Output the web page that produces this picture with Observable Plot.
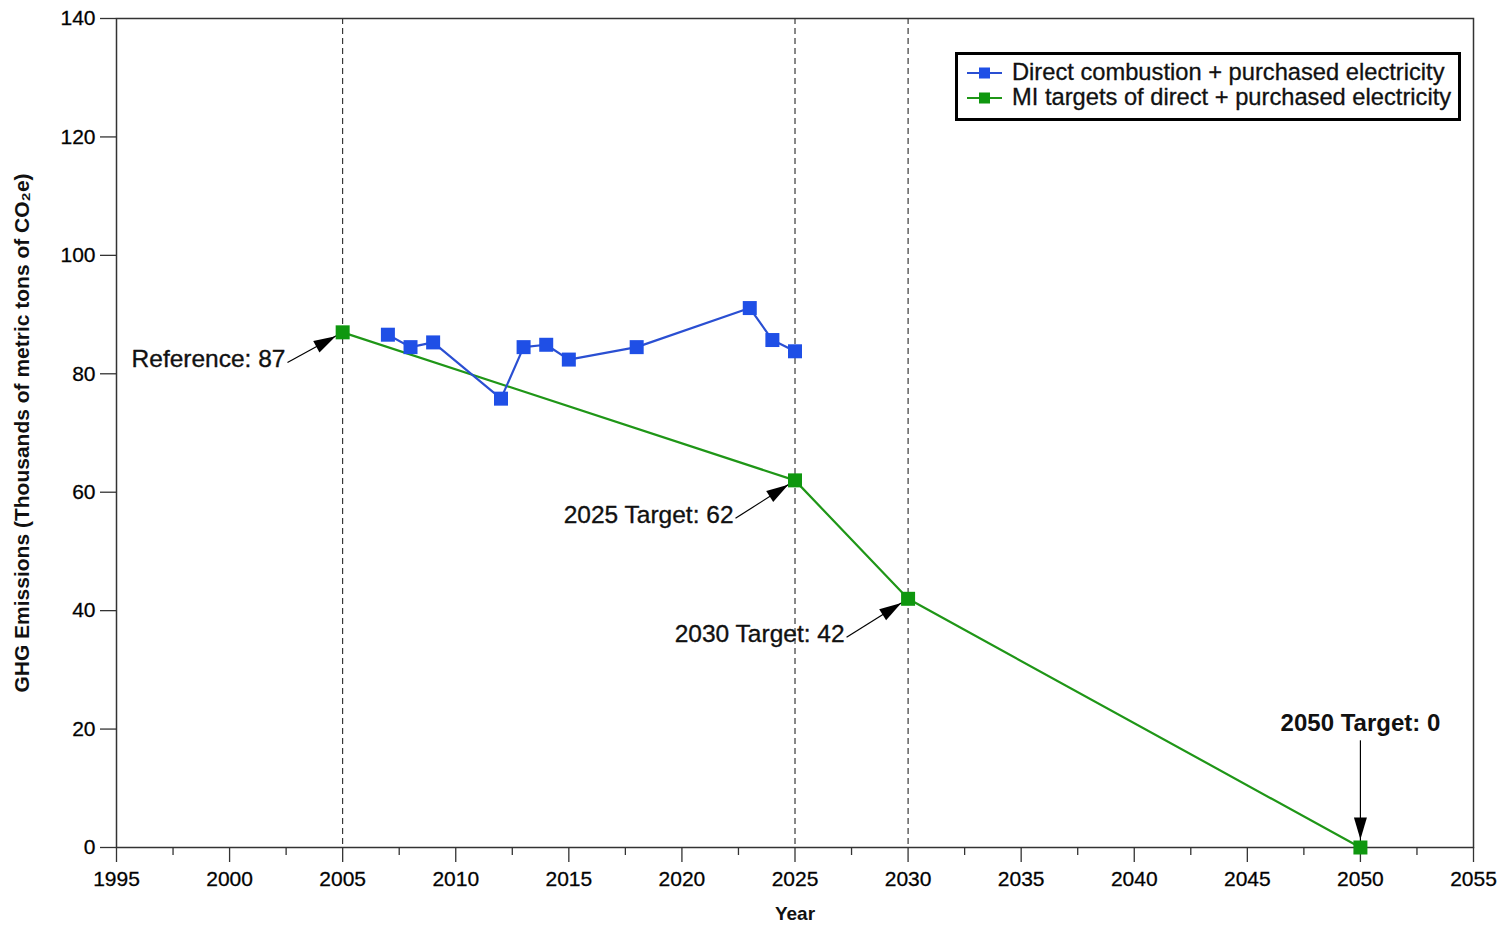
<!DOCTYPE html>
<html>
<head>
<meta charset="utf-8">
<script src="https://cdn.jsdelivr.net/npm/d3@7"></script>
<script src="https://cdn.jsdelivr.net/npm/@observablehq/plot@0.6"></script>
<style>
  html, body { margin: 0; padding: 0; background: #fff; }
  #wrap { position: relative; width: 1508px; height: 926px; font-family: "Liberation Sans", Arial, Helvetica, sans-serif; }
  #legend {
    position: absolute; left: 955px; top: 52px; width: 506px; height: 69px;
    box-sizing: border-box; border: 3px solid #000; background: #fff;
    padding: 5px 4px 0 9px; font-size: 23.7px; color: #111;
  }
  .row { display: flex; align-items: center; height: 25px; line-height: 25px; white-space: nowrap; }
  .row svg { flex: none; margin-right: 10px; }
  .row span { -webkit-text-stroke: 0.3px #111; }
</style>
</head>
<body>
<div id="wrap">
  <div id="chart"></div>
  <div id="legend"></div>
</div>
<script>
// ---- Data ----
const actualYears = [2007, 2008, 2009, 2012, 2013, 2014, 2015, 2018, 2023, 2024, 2025];
const actualEmissions = [86.6, 84.5, 85.3, 75.8, 84.5, 84.9, 82.4, 84.5, 91.1, 85.7, 83.8];
const targetYears = [2005, 2025, 2030, 2050];
const targetEmissions = [87, 62, 42, 0];
const milestoneYears = [2005, 2025, 2030];
const xTicks = [1995, 2000, 2005, 2010, 2015, 2020, 2025, 2030, 2035, 2040, 2045, 2050, 2055];
const xMinorTicks = [1997.5, 2002.5, 2007.5, 2012.5, 2017.5, 2022.5, 2027.5, 2032.5, 2037.5, 2042.5, 2047.5, 2052.5];
const yTicks = [0, 20, 40, 60, 80, 100, 120, 140];
const seriesNames = ["Direct combustion + purchased electricity", "MI targets of direct + purchased electricity"];
const annotLabels = ["Reference: 87", "2025 Target: 62", "2030 Target: 42", "2050 Target: 0"];
const annotTargetX = [2005, 2025, 2030, 2050];
const annotTargetY = [87, 62, 42, 0];
const annotTailX = [2002.56, 2022.37, 2027.28, 2050];
const annotTailY = [81.9, 55.6, 35.5, 18.1];
const xLabel = "Year";
const yLabel = "GHG Emissions (Thousands of metric tons of CO\u2082e)";

// ---- Build tables ----
const actual = actualYears.map((x, i) => ({x, y: actualEmissions[i]}));
const target = targetYears.map((x, i) => ({x, y: targetEmissions[i]}));
const annots = annotLabels.map((label, i) => ({
  label, x: annotTargetX[i], y: annotTargetY[i], tx: annotTailX[i], ty: annotTailY[i], i
}));

const BLUE = "#1f4fe6";
const BLUE_LINE = "#2a4fd2";
const GREEN = "#0f970f";
const GREEN_LINE = "#1f9617";
const AXIS = "#333";
const SQ_R = 14 / Math.sqrt(Math.PI);
const heavy = {stroke: "#111", strokeWidth: 0.35};

const chart = Plot.plot({
  width: 1508,
  height: 926,
  marginLeft: 116,
  marginRight: 35,
  marginTop: 18,
  marginBottom: 79,
  x: {domain: [1995, 2055], label: null},
  y: {domain: [0, 140], label: null},
  style: {fontFamily: "'Liberation Sans', Arial, Helvetica, sans-serif", fontSize: "20px", color: "#000", background: "#fff", overflow: "visible"},
  marks: [
    Plot.ruleX(milestoneYears, {stroke: "#111", strokeWidth: 1, strokeDasharray: "6,4"}),
    Plot.frame({stroke: AXIS, strokeWidth: 1.5}),
    Plot.axisX({ticks: xTicks, tickSize: 15, tickPadding: 9, tickFormat: "d", fontSize: 21, stroke: AXIS, strokeWidth: 1.3, label: null}),
    Plot.axisX({ticks: xMinorTicks, tickSize: 8, text: null, stroke: AXIS, strokeWidth: 1.3, label: null}),
    Plot.axisY({ticks: yTicks, tickSize: 16, tickPadding: 5, fontSize: 21, stroke: AXIS, strokeWidth: 1.3, label: null}),
    Plot.line(target, {x: "x", y: "y", stroke: GREEN_LINE, strokeWidth: 2.2}),
    Plot.line(actual, {x: "x", y: "y", stroke: BLUE_LINE, strokeWidth: 2.2}),
    Plot.link(annots, {x1: "tx", y1: "ty", x2: "x", y2: "y", stroke: "#000", strokeWidth: 1.2}),
    Plot.dot(target, {x: "x", y: "y", symbol: "square", r: SQ_R, fill: GREEN, stroke: null}),
    Plot.dot(actual, {x: "x", y: "y", symbol: "square", r: SQ_R, fill: BLUE, stroke: null}),
    Plot.text(annots, {filter: d => d.i < 3, x: "tx", y: "ty", text: "label", textAnchor: "end", dx: -2, dy: -3, fontSize: 24.5, fill: "#111", ...heavy}),
    Plot.text(annots, {filter: d => d.i === 3, x: "tx", y: "ty", text: "label", textAnchor: "middle", dy: -17, fontSize: 24, fontWeight: "bold", fill: "#111"}),
    Plot.text([xLabel], {frameAnchor: "bottom", dy: 72, text: d => d, fontSize: 19, fontWeight: "bold", fill: "#111"}),
    Plot.text([yLabel], {frameAnchor: "left", textAnchor: "middle", dx: -94, rotate: -90, text: d => d, fontSize: 21, fontWeight: "bold", fill: "#111"})
  ]
});
document.getElementById("chart").appendChild(chart);

// Slightly heavier tick labels (reference rendering is darker)
d3.select(chart).selectAll('g[aria-label="x-axis tick label"] text, g[aria-label="y-axis tick label"] text')
  .attr("stroke", "#111").attr("stroke-width", 0.3);

// Filled arrowheads on annotation links
const svg = d3.select(chart);
const defs = svg.append("defs");
defs.append("marker")
  .attr("id", "ahead")
  .attr("markerUnits", "userSpaceOnUse")
  .attr("viewBox", "-30 -10 40 20")
  .attr("markerWidth", 40)
  .attr("markerHeight", 20)
  .attr("refX", 8)
  .attr("refY", 0)
  .attr("orient", "auto")
  .append("path")
  .attr("d", "M0,0L-22,-6.5L-22,6.5Z")
  .attr("fill", "#000");
svg.selectAll('g[aria-label="link"] path').attr("marker-end", "url(#ahead)");

// Legend
const colors = [[BLUE_LINE, BLUE], [GREEN_LINE, GREEN]];
const legend = d3.select("#legend");
seriesNames.forEach((name, i) => {
  const row = legend.append("div").attr("class", "row");
  const s = row.append("svg").attr("width", 35).attr("height", 14);
  s.append("line").attr("x1", 0).attr("x2", 35).attr("y1", 7).attr("y2", 7).attr("stroke", colors[i][0]).attr("stroke-width", 2);
  s.append("rect").attr("x", 12).attr("y", 1.5).attr("width", 11).attr("height", 11).attr("fill", colors[i][1]);
  row.append("span").text(name);
});
</script>
</body>
</html>
